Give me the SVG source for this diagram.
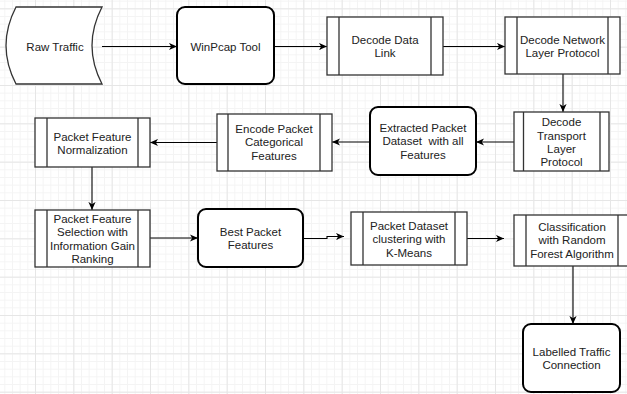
<svg xmlns="http://www.w3.org/2000/svg" width="627" height="394" viewBox="0 0 627 394">
<defs>
<pattern id="minor" patternUnits="userSpaceOnUse" x="-3.33" y="8.33" width="7.667" height="7.667">
<path d="M0,0.5 H7.667 M0.5,0 V7.667" fill="none" stroke="#f4f4f4" stroke-width="1"/>
</pattern>
<pattern id="major" patternUnits="userSpaceOnUse" x="-3.33" y="8.33" width="38.333" height="38.333">
<path d="M0,0.5 H38.333 M0.5,0 V38.333" fill="none" stroke="#e6e6e6" stroke-width="1"/>
</pattern>
<marker id="arr" viewBox="0 0 10 8" refX="9" refY="4" markerWidth="9" markerHeight="8" markerUnits="userSpaceOnUse" orient="auto">
<path d="M0,0 L9,4 L0,8 L2.5,4 Z" fill="#000"/>
</marker>
<style>
text{font-family:"Liberation Sans",Arial,sans-serif;font-size:11.5px;fill:#222;text-anchor:middle}
.proc{fill:#fff;stroke:#333;stroke-width:1.3}
.bold{fill:#fff;stroke:#000;stroke-width:2}
.edge{fill:none;stroke:#000;stroke-width:1.1;marker-end:url(#arr)}
</style>
</defs>
<rect width="627" height="394" fill="#fff"/>
<rect width="627" height="394" fill="url(#minor)"/>
<rect width="627" height="394" fill="url(#major)"/>

<g id="connectors">
<path class="edge" d="M102,46.5 H177"/>
<path class="edge" d="M274,46.5 H327"/>
<path class="edge" d="M443,46.5 H505"/>
<path class="edge" d="M563,74 V112"/>
<path class="edge" d="M514,142 H476"/>
<path class="edge" d="M370,142 H332"/>
<path class="edge" d="M217,142.5 H150"/>
<path class="edge" d="M92,167 V210"/>
<path class="edge" d="M150,238 H198"/>
<path class="edge" d="M303,238.5 H327 V236.5 H344"/>
<path class="edge" d="M467,238.5 H504"/>
<path class="edge" d="M573,266 V324"/>
</g>

<g id="raw-traffic">
<path class="proc" d="M16,7 H102 Q82,45.5 102,84 H16 Q-4,45.5 16,7 Z"/>
<text x="55" y="50.5">Raw Traffic</text>
</g>

<g id="winpcap">
<rect class="bold" x="177" y="7" width="97" height="77" rx="8"/>
<text x="225.5" y="50.5">WinPcap Tool</text>
</g>

<g id="decode-data-link">
<rect class="proc" x="327" y="17" width="116" height="58"/>
<path class="proc" d="M339,17 V75 M431,17 V75"/>
<text x="385" y="44">Decode Data</text>
<text x="385" y="57.4">Link</text>
</g>

<g id="decode-network">
<rect class="proc" x="505" y="17" width="115" height="57"/>
<path class="proc" d="M517,17 V74 M608,17 V74"/>
<text x="562.5" y="44">Decode Network</text>
<text x="562.5" y="57.4">Layer Protocol</text>
</g>

<g id="decode-transport">
<rect class="proc" x="514" y="112" width="95" height="59"/>
<path class="proc" d="M523.5,112 V171 M600,112 V171"/>
<text x="561.5" y="126.2">Decode</text>
<text x="561.5" y="139.6">Transport</text>
<text x="561.5" y="153">Layer</text>
<text x="561.5" y="166.4">Protocol</text>
</g>

<g id="extracted">
<rect class="bold" x="370" y="107" width="106" height="68" rx="8"/>
<text x="423" y="132">Extracted Packet</text>
<text x="423" y="145.4" xml:space="preserve">Dataset  with all</text>
<text x="423" y="158.8">Features</text>
</g>

<g id="encode">
<rect class="proc" x="217" y="114" width="115" height="57"/>
<path class="proc" d="M228,114 V171 M320,114 V171"/>
<text x="274" y="133">Encode Packet</text>
<text x="274" y="146.4">Categorical</text>
<text x="274" y="159.8">Features</text>
</g>

<g id="normalization">
<rect class="proc" x="35" y="118" width="115" height="49"/>
<path class="proc" d="M47,118 V167 M138,118 V167"/>
<text x="92.5" y="140.5">Packet Feature</text>
<text x="92.5" y="153.5">Normalization</text>
</g>

<g id="selection">
<rect class="proc" x="35" y="210" width="115" height="57"/>
<path class="proc" d="M47,210 V267 M138,210 V267"/>
<text x="92.5" y="223">Packet Feature</text>
<text x="92.5" y="236.4">Selection with</text>
<text x="92.5" y="249.8">Information Gain</text>
<text x="92.5" y="263.2">Ranking</text>
</g>

<g id="best">
<rect class="bold" x="198" y="209" width="105" height="58" rx="8"/>
<text x="250.5" y="236">Best Packet</text>
<text x="250.5" y="249.4">Features</text>
</g>

<g id="clustering">
<rect class="proc" x="351" y="212" width="116" height="53"/>
<path class="proc" d="M363,212 V265 M455,212 V265"/>
<text x="409" y="230">Packet Dataset</text>
<text x="409" y="243.4">clustering with</text>
<text x="409" y="256.8">K-Means</text>
</g>

<g id="classification">
<rect class="proc" x="514" y="215" width="116" height="51"/>
<path class="proc" d="M526,215 V266 M618,215 V266"/>
<text x="572" y="231">Classification</text>
<text x="572" y="244.4">with Random</text>
<text x="572" y="257.8">Forest Algorithm</text>
</g>

<g id="labelled">
<rect class="bold" x="523" y="324" width="97" height="68" rx="8"/>
<text x="571.5" y="356">Labelled Traffic</text>
<text x="571.5" y="369.4">Connection</text>
</g>
</svg>
